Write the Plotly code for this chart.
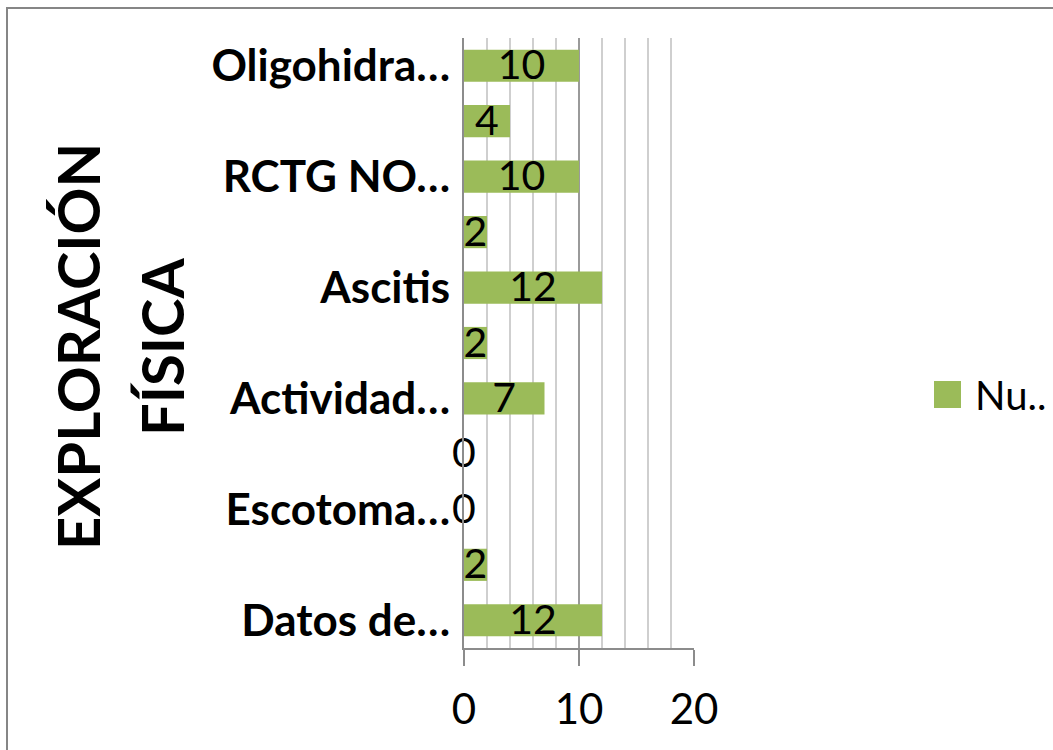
import plotly.graph_objects as go

# Data (bottom to top)
categories = ["Datos de…", "", "Escotoma…", "", "Actividad…", "", "Ascitis", "", "RCTG NO…", "", "Oligohidra…"]
values = [12, 2, 0, 0, 7, 2, 12, 2, 10, 4, 10]
series_name = "Nu.."
x_ticks = [0, 10, 20]
y_title_lines = ["EXPLORACIÓN", "FÍSICA"]

BAR = "#9BBB59"
FONT = "Lato"

pos = list(range(len(categories)))
tickvals = [p for p, c in zip(pos, categories) if c]
ticktext = [c for c in categories if c]

fig = go.Figure()
fig.add_trace(go.Bar(
    x=values, y=pos, orientation="h", name=series_name,
    marker=dict(color=BAR, line=dict(width=0)), showlegend=False,
))
fig.add_trace(go.Scatter(
    x=[v / 2 for v in values], y=[p - 0.06 for p in pos], mode="text",
    text=[str(v) for v in values], textposition="middle center",
    textfont=dict(family=FONT, size=41, color="black"),
    showlegend=False, cliponaxis=False, hoverinfo="skip",
))

W, H = 1053, 750
L, R, T, B = 464, 694, 38, 648
pw, ph = R - L, B - T

def px(x):
    return (x - L) / pw

def py(y):
    return (B - y) / ph

fig.update_layout(
    width=W, height=H, autosize=False,
    margin=dict(l=L, r=W - R, t=T, b=H - B, pad=0),
    paper_bgcolor="white", plot_bgcolor="white",
    bargap=0.42,
    font=dict(family=FONT, color="black"),
    xaxis=dict(
        range=[0, 20], tickvals=x_ticks, ticks="outside", ticklen=16,
        tickcolor="#8c8c8c", tickwidth=2,
        showgrid=True, gridcolor="#9a9a9a", gridwidth=2,
        minor=dict(dtick=2, showgrid=True, gridcolor="#cfcfcf", gridwidth=2),
        showline=True, linecolor="#8c8c8c", linewidth=2,
        zeroline=False, tickfont=dict(family=FONT, size=42, color="black"),
        ticklabelstandoff=8, fixedrange=True,
    ),
    yaxis=dict(
        range=[-0.5, len(categories) - 0.5], tickvals=tickvals, ticktext=ticktext,
        ticks="", showgrid=False, showline=True, linecolor="#8c8c8c", linewidth=2,
        zeroline=False, tickfont=dict(family=FONT, size=44, color="black", weight="bold"),
        ticklabelstandoff=3, fixedrange=True,
    ),
    shapes=[
        dict(type="rect", xref="paper", yref="paper",
             x0=px(7), x1=px(1200), y0=py(8), y1=py(900),
             line=dict(color="#868686", width=2), fillcolor="rgba(0,0,0,0)", layer="below"),
        dict(type="rect", xref="paper", yref="paper",
             x0=px(934), x1=px(961), y0=py(408), y1=py(381),
             line=dict(width=0), fillcolor=BAR),
    ],
    annotations=[
        dict(text=y_title_lines[0], xref="paper", yref="paper", x=px(78), y=py(347),
             xanchor="center", yanchor="middle", textangle=-90, showarrow=False,
             font=dict(family=FONT, size=58, color="black", weight="bold")),
        dict(text=y_title_lines[1], xref="paper", yref="paper", x=px(162), y=py(347),
             xanchor="center", yanchor="middle", textangle=-90, showarrow=False,
             font=dict(family=FONT, size=58, color="black", weight="bold")),
        dict(text=series_name, xref="paper", yref="paper", x=px(973), y=py(395),
             xanchor="left", yanchor="middle", showarrow=False,
             font=dict(family=FONT, size=40, color="black")),
    ],
)

fig.write_html("out.html", config={"displayModeBar": False},
               post_script="document.body.style.margin='0';document.body.style.overflow='hidden';")
